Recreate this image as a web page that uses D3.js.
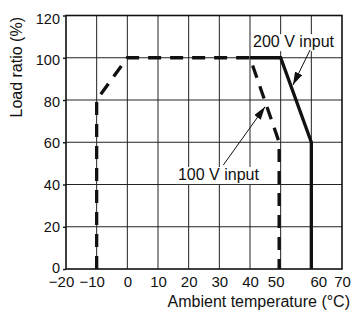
<!DOCTYPE html>
<html><head><meta charset="utf-8">
<script src="https://cdn.jsdelivr.net/npm/d3@7"></script>
<style>
html,body{margin:0;padding:0;background:#fff;}
text{font-family:"Liberation Sans",Arial,Helvetica,sans-serif;fill:#111;}
</style></head>
<body><svg id="c" width="354" height="311"></svg>
<script>
// Data
const xTicks = [-20,-10,0,10,20,30,40,50,60,70];
const yTicks = [0,20,40,60,80,100,120];
const input100 = [{t:-10,l:0},{t:-10,l:80},{t:0,l:100},{t:40,l:100},{t:49.5,l:60},{t:49.5,l:0}];
const input200 = [{t:40,l:100},{t:50,l:100},{t:60,l:60},{t:60,l:0}];
const labels = [
  {text:"200 V input", x:41, y:105, ax:59.6, ay:103.7, tx:54.0, ty:87.1},
  {text:"100 V input", x:16.5, y:42.1, ax:31.3, ay:49.2, tx:44.9, ty:76.8}
];
const xLabelShift = {"-20":-5, "-10":-5, 50:-5, 60:7};

const W=354,H=311, m={l:66,r:12,t:15.5,b:42};
const svg=d3.select("#c");
const x=d3.scaleLinear().domain([-20,70]).range([m.l,W-m.r]);
const y=d3.scaleLinear().domain([0,120]).range([H-m.b,m.t]);

// grid
const g=svg.append("g");
g.selectAll(".vx").data(xTicks.slice(1,-1)).join("line")
 .attr("x1",d=>x(d)).attr("x2",d=>x(d)).attr("y1",y(0)).attr("y2",y(120))
 .attr("stroke","#222").attr("stroke-width",1);
g.selectAll(".hy").data(yTicks.slice(1,-1)).join("line")
 .attr("x1",x(-20)).attr("x2",x(70)).attr("y1",d=>y(d)).attr("y2",d=>y(d))
 .attr("stroke","#222").attr("stroke-width",1);
// frame
svg.append("rect").attr("x",x(-20)).attr("y",y(120)).attr("width",x(70)-x(-20)).attr("height",y(0)-y(120))
 .attr("fill","none").attr("stroke","#111").attr("stroke-width",1.6);

// axes
const yAx=svg.append("g").attr("transform",`translate(${x(-20)},0)`)
 .call(d3.axisLeft(y).tickValues(yTicks).tickSize(3).tickPadding(3));
yAx.select(".domain").remove();
yAx.selectAll("text").attr("font-size",14.5).attr("dy","0.32em")
 .attr("transform",d=>`translate(0,${d/120*4-1})`)
 .style("font-family",'"Liberation Sans",Arial,sans-serif').attr("fill","#111");
yAx.selectAll("line").attr("stroke","#111").attr("stroke-width",1.4);

const xAx=svg.append("g").attr("transform",`translate(0,${y(0)})`)
 .call(d3.axisBottom(x).tickValues(xTicks).tickSize(0).tickPadding(6).tickFormat(d=>d<0?"\u2212"+Math.abs(d):d));
xAx.select(".domain").remove();
xAx.selectAll("text").attr("font-size",15).attr("dy","0.8em").style("font-family",'"Liberation Sans",Arial,sans-serif').attr("fill","#111")
 .attr("dx",d=>xLabelShift[d]||0);

// lines
const line=d3.line().x(d=>x(d.t)).y(d=>y(d.l));
svg.append("path").datum(input100).attr("d",line).attr("fill","none").attr("stroke","#111")
 .attr("stroke-width",3.3).attr("stroke-dasharray","13,9");
svg.append("path").datum(input200).attr("d",line).attr("fill","none").attr("stroke","#111")
 .attr("stroke-width",3.3).attr("stroke-linejoin","miter");

// annotations
const defs=svg.append("defs");
defs.append("marker").attr("id","arr").attr("viewBox","0 0 13 8").attr("refX",13).attr("refY",4)
 .attr("markerWidth",13).attr("markerHeight",8).attr("markerUnits","userSpaceOnUse").attr("orient","auto")
 .append("path").attr("d","M0,0L13,4L0,8Z").attr("fill","#111");
labels.forEach(a=>{
  svg.append("rect").attr("x",x(a.x)-2).attr("y",y(a.y)-13).attr("width",85).attr("height",17).attr("fill","#fff");
});
labels.forEach(a=>{
  svg.append("text").attr("x",x(a.x)).attr("y",y(a.y)).attr("font-size",16).text(a.text);
  svg.append("line").attr("x1",x(a.ax)).attr("y1",y(a.ay)).attr("x2",x(a.tx)).attr("y2",y(a.ty))
   .attr("stroke","#111").attr("stroke-width",1).attr("marker-end","url(#arr)");
});

// titles
svg.append("text").attr("transform",`translate(22,${(y(120)+y(0))/2-75}) rotate(-90)`).attr("text-anchor","middle")
 .attr("font-size",16).text("Load ratio (%)");
svg.append("text").attr("x",350).attr("y",307).attr("text-anchor","end").attr("font-size",16).text("Ambient temperature (\u00B0C)");
</script></body></html>
